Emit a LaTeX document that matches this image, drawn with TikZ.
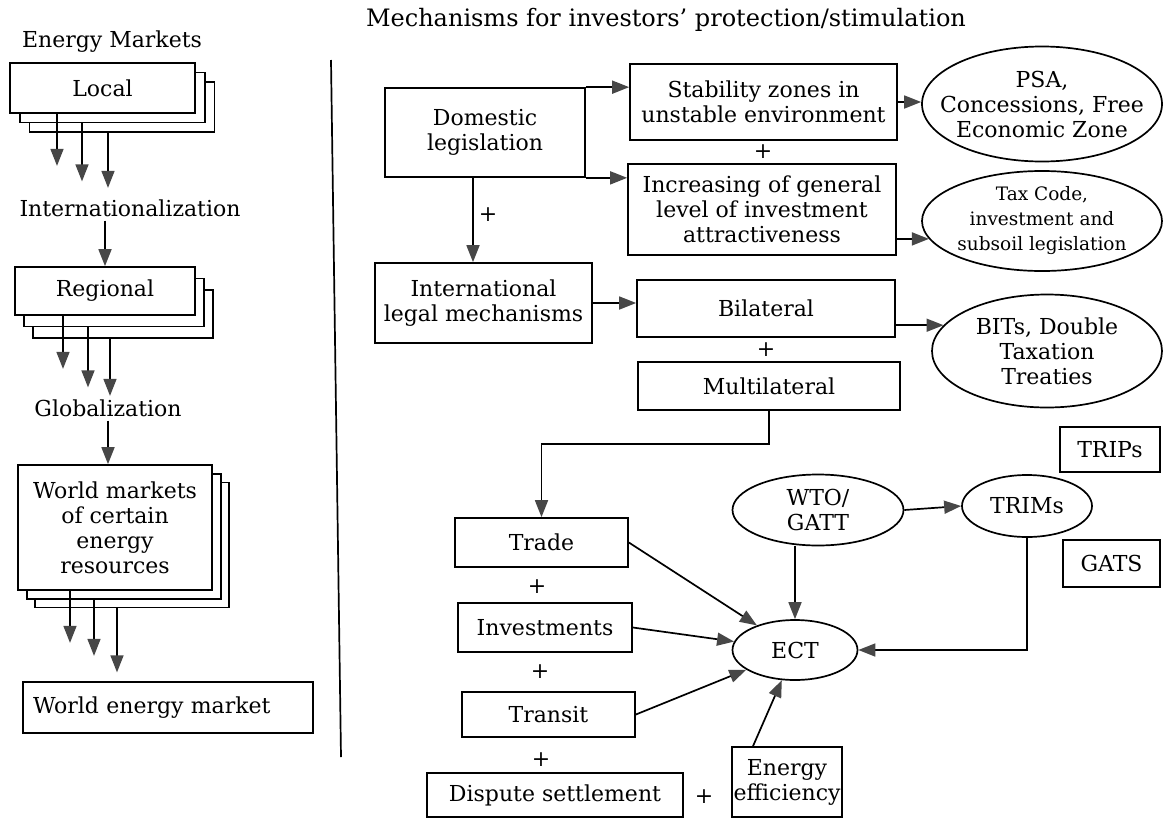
\documentclass[tikz,border=0pt]{standalone}
\usepackage{fontspec}
\setmainfont{DejaVu Serif}
\usetikzlibrary{arrows.meta,shapes.geometric}

\tikzset{
  box/.style={draw, line width=1.7pt, fill=white, inner sep=2pt, align=center},
  oval/.style={ellipse, draw, line width=1.7pt, fill=white, inner xsep=-20pt, inner ysep=-4pt, align=center},
  arr/.style={line width=1.7pt, -{Triangle[length=17pt,width=13pt,color=black!72]}},
  lbl/.style={inner sep=4pt},
}

\begin{document}
\begin{tikzpicture}[x=1pt, y=-1pt, font=\fontsize{22}{25}\selectfont]
\useasboundingbox (0,0) rectangle (1163,820);

% energy markets column
\node[lbl] (markets) at (112,42) {Energy Markets};
\node[box, minimum width=185pt, minimum height=50pt] (local3) at (122,107) {};
\node[box, minimum width=185pt, minimum height=50pt] (local2) at (112.5,97.5) {};
\node[box, minimum width=185pt, minimum height=50pt] (local) at (102.5,88) {Local};
\draw[arr] (local.south -| 57,0) -- ++(0,52);
\draw[arr] (local2.south -| 82,0) -- ++(0,58);
\draw[arr] (local3.south -| 108,0) -- ++(0,55);

\node[lbl] (internat) at (130,208) {Internationalization};

\node[box, minimum width=180pt, minimum height=48pt] (regional3) at (123,314) {};
\node[box, minimum width=180pt, minimum height=48pt] (regional2) at (114,302.5) {};
\node[box, minimum width=180pt, minimum height=48pt] (regional) at (105,291) {Regional};
\draw[arr] (internat.south -| regional.north) -- (regional.north);
\draw[arr] (regional.south -| 63,0) -- ++(0,53);
\draw[arr] (regional2.south -| 88,0) -- ++(0,60);
\draw[arr] (regional3.south -| 110,0) -- ++(0,57);

\node[lbl] (glob) at (108,408) {Globalization};

\node[box, minimum width=194pt, minimum height=125pt] (world3) at (132,545) {};
\node[box, minimum width=194pt, minimum height=125pt] (world2) at (124,536.5) {};
\node[box, minimum width=194pt, minimum height=125pt] (world) at (115,527.5) {World markets\\of certain\\energy\\resources};
\draw[arr] (glob.south) -- (glob.south |- world.north);
\draw[arr] (world.south -| 70,0) -- ++(0,52);
\draw[arr] (world2.south -| 94,0) -- ++(0,56);
\draw[arr] (world3.south -| 117,0) -- ++(0,64);

\node[box, text width=270pt, inner xsep=10pt, minimum height=51pt, align=left] (wem) at (168,707.5) {World energy market};

% divider
\draw[line width=1.7pt] (331,60) -- (341,757);

% mechanisms
\node[lbl, font=\fontsize{24}{26}\selectfont] (mech) at (666,20) {Mechanisms for investors' protection/stimulation};

\node[box, minimum width=200pt, minimum height=89pt] (dom) at (485,132.5) {Domestic\\legislation};
\node[box, minimum width=267pt, minimum height=76pt] (stab) at (763.5,102) {Stability zones in\\unstable environment};
\node[box, minimum width=268pt, minimum height=91pt] (incr) at (762,209.5) {Increasing of general\\level of investment\\attractiveness};
\node (plusa) at (763,152) {+};
\node[oval, minimum width=240pt, minimum height=115pt] (psa) at (1042,104) {PSA,\\Concessions, Free\\Economic Zone};
\node[oval, minimum width=240pt, minimum height=100pt, font=\fontsize{18.5}{25}\selectfont] (tax) at (1042,221) {Tax Code,\\investment and\\subsoil legislation};

\draw[arr] (dom.north east) -- (dom.north east -| stab.west);
\draw[arr] (dom.south east) -- (dom.south east -| incr.west);
\draw[arr] (stab.east) -- (stab.east -| psa.west);
\draw[arr] (tax.189 -| incr.east) -- (tax.189);

\node[box, minimum width=217pt, minimum height=80pt] (legal) at (483.5,303) {International\\legal mechanisms};
\draw[arr] ([xshift=-12pt]dom.south) -- ([xshift=-12pt]dom.south |- legal.north);
\node (plusb) at (488,215) {+};

\node[box, minimum width=258pt, minimum height=57pt] (bil) at (766,308.5) {Bilateral};
\node (plusc) at (766,350) {+};
\node[box, minimum width=262pt, minimum height=48pt] (multi) at (769,386) {Multilateral};
\node[oval, minimum width=230pt, minimum height=113pt] (bits) at (1047,351) {BITs, Double\\Taxation\\Treaties};
\draw[arr] (legal.east) -- (legal.east -| bil.west);
\draw[arr] (bits.166 -| bil.east) -- (bits.166);

% ECT part
\node[box, minimum width=173pt, minimum height=49pt] (trade) at (541.5,542.5) {Trade};
\node (plusd) at (537,587) {+};
\node[box, minimum width=174pt, minimum height=49pt] (invest) at (545,627.5) {Investments};
\node (pluse) at (540,672) {+};
\node[box, minimum width=173pt, minimum height=45pt] (transit) at (548.5,714.5) {Transit};
\node (plusf) at (541,760) {+};
\node[box, minimum width=256pt, minimum height=44pt] (dispute) at (555,795) {Dispute settlement};
\node (plusg) at (704,797) {+};
\node[box, minimum width=110pt, minimum height=70pt, inner xsep=0pt] (eff) at (787,782) {Energy\\efficiency};

\node[oval, minimum width=125pt, minimum height=60pt] (ect) at (795,650) {ECT};
\node[oval, minimum width=171pt, minimum height=71pt] (wto) at (818,510) {WTO/\\GATT};
\node[oval, minimum width=130pt, minimum height=62pt] (trims) at (1027,506) {TRIMs};
\node[box, minimum width=100pt, minimum height=45pt] (trips) at (1110,449.5) {TRIPs};
\node[box, minimum width=97pt, minimum height=47pt] (gats) at (1111.5,563.5) {GATS};

\draw[arr] (multi.south) -- ++(0,33) -| (trade.north);
\draw[arr] (trade.east) -- (ect);
\draw[arr] (invest.east) -- (ect);
\draw[arr] (transit.east) -- (ect);
\draw[arr] ([xshift=-34pt]eff.north) -- (ect);
\draw[arr] (ect.north |- wto.south) -- (ect.north);
\draw[arr] (wto.east) -- (trims.west);
\draw[arr] (trims.south) |- (ect.east);

\end{tikzpicture}
\end{document}
